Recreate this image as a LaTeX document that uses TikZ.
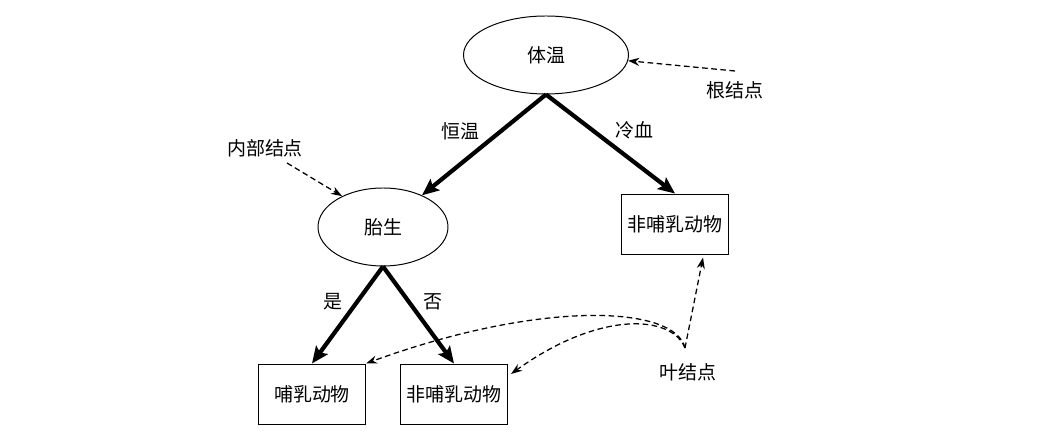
\documentclass[tikz,border=0pt]{standalone}
\usepackage{fontspec}
\setmainfont{Noto Sans CJK SC}
\usetikzlibrary{arrows.meta,shapes.geometric,calc}
\tikzset{%
  attrnode/.style  = {shape=ellipse, draw, line width=0.7pt, minimum height=1.95cm},%
  leafnode/.style  = {shape=rectangle, draw, line width=0.7pt,%
                      minimum width=2.675cm, minimum height=1.5cm},%
  toellipse/.style = {edge from parent path={(\tikzparentnode.south) -- (\tikzchildnode)}},%
  tobox/.style     = {edge from parent path={(\tikzparentnode.south) -- (\tikzchildnode.north)}},%
  notearrow/.style = {draw, line width=0.9pt, dash pattern=on 4pt off 2.5pt,%
                      -{Stealth[length=0.28cm,width=0.2cm]}}%
}

\begin{document}
\begin{tikzpicture}[auto, every node/.style = {font=\fontsize{13.5pt}{16pt}\selectfont, inner sep=2pt},
	edge from parent/.style = {draw, line width=3pt, -{Stealth[length=0.42cm,width=0.36cm,inset=0.08cm]}}]%
	\useasboundingbox (0,0) rectangle (26.35,10.975);
	\begin{scope}[level distance = 4.3cm]
	\tikzstyle{level 1}=[sibling distance=7.3cm, tobox]%
	\tikzstyle{level 2}=[sibling distance=3.55cm, level distance=4.175cm, tobox]%
		\node[attrnode, minimum width=4.125cm] (temp) at (13.65,9.6) {体温}%
			child[xshift=-0.425cm, toellipse]{node[attrnode, minimum width=3.25cm] (birth) {胎生}%
				child{node[leafnode] (mammal) {哺乳动物}%
				edge from parent node [swap] {是}}%
				child{node[leafnode] (nonmamb) {非哺乳动物}%
				edge from parent node {否}}%
			edge from parent node [swap] {恒温}}%
			child[xshift=-0.425cm, yshift=0.075cm]{node[leafnode] (nonmama) {非哺乳动物}%
			edge from parent node {冷血}};%
	\end{scope}
	% annotations
	\node (rootlbl) at (18.375,8.725) {根结点};
	\node (innerlbl) at (6.625,7.275) {内部结点};
	\node (leaflbl) at (17.2,1.675) {叶结点};
	\coordinate (roottail) at ($(rootlbl)+(0,0.475)$);
	\coordinate (innertail) at ($(innerlbl)+(0.55,-0.375)$);
	\coordinate (leaftail) at ($(leaflbl)+(-0.075,0.6)$);
	\draw[notearrow] (roottail) -- (temp.-4);
	\draw[notearrow] (innertail) -- (birth.143);
	\draw[notearrow] (leaftail) .. controls (16.875,3.35) and (13.5,3.475) .. (mammal.north east);
	\draw[notearrow] (leaftail) .. controls (16.8,3.1) and (15.0,3.225) .. ([xshift=0.075cm,yshift=0.5cm]nonmamb.east);
	\draw[notearrow] (leaftail) -- ([xshift=0.7cm,yshift=-0.075cm]nonmama.south);
\end{tikzpicture}
\end{document}
